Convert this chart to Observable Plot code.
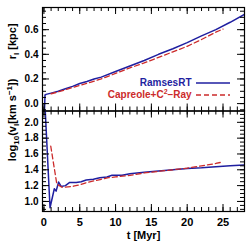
<!DOCTYPE html>
<html><head><meta charset="utf-8">
<script src="https://cdn.jsdelivr.net/npm/d3@7"></script>
<script src="https://cdn.jsdelivr.net/npm/@observablehq/plot@0.6"></script>
<style>
body{margin:0;background:#fff;}
#c{position:relative;width:249px;height:245px;overflow:hidden;}
#c svg{position:absolute;left:0;overflow:visible;background:none;}
.leg{position:absolute;font:bold 10px "Liberation Sans",Arial,sans-serif;line-height:12px;white-space:nowrap;}
</style></head>
<body><div id="c"></div>
<script>
// ---- data ----
const blueRT = [0.05,0.15,0.3,1,2,3,4,5,6,7,8,10,12,14,16,18,20,22,24,26,28];
const blueR  = [-0.1,0.07,0.075,0.085,0.10,0.12,0.14,0.163,0.18,0.20,0.215,0.26,0.305,0.35,0.40,0.445,0.495,0.55,0.60,0.66,0.725];
const redRT  = [1,2,4,6,8,10,12,14,16,18,20,22,24,25];
const redR   = [0.08,0.095,0.13,0.165,0.20,0.245,0.29,0.33,0.375,0.42,0.465,0.52,0.58,0.605];

const blueVT = [0.1,0.85,1.45,1.7,2.05,2.4,3,3.6,4.5,5.2,5.9,6.9,7.8,8.8,9.5,10.9,12,14,16,18,20,22,24,26,28];
const blueV  = [2.3,0.92,1.16,1.13,1.245,1.19,1.20,1.24,1.24,1.25,1.27,1.28,1.30,1.31,1.33,1.33,1.35,1.37,1.385,1.40,1.415,1.425,1.44,1.45,1.46];
const redVT  = [0.95,1.8,2.5,3,4,5,6,7,8,9,10,12,14,16,18,20,22,24,25];
const redV   = [1.70,1.22,1.18,1.18,1.19,1.21,1.24,1.26,1.28,1.30,1.31,1.33,1.36,1.38,1.40,1.42,1.45,1.48,1.50];

const xTicks = [0,5,10,15,20,25];
const rTicks = [0.0,0.2,0.4,0.6];
const vTicks = [1.0,1.2,1.4,1.6,1.8,2.0];
const seriesNames = ["RamsesRT","Capreole+C²–Ray"];
const seriesColors = ["#1f1fa0","#cc2b2b"];

// ---- layout ----
const W=249, ML=42, MR=5;
const xDomain=[-0.2,28];
const font={fontSize:10,fontWeight:"bold",fontFamily:"Liberation Sans, Arial, sans-serif"};
const minorX=d3.range(0,28.001,1);

function ticksMarks(H, mt, mb, minorY, majorY){
  const fh=H-mt-mb, fw=W-ML-MR;
  return [
    Plot.tickX(minorX,{x:d=>d,insetTop:fh-4,stroke:"black"}),
    Plot.tickX(minorX,{x:d=>d,insetBottom:fh-4,stroke:"black"}),
    Plot.tickX(xTicks,{x:d=>d,insetTop:fh-7,stroke:"black"}),
    Plot.tickX(xTicks,{x:d=>d,insetBottom:fh-7,stroke:"black"}),
    Plot.tickY(minorY,{y:d=>d,insetRight:fw-4,stroke:"black"}),
    Plot.tickY(minorY,{y:d=>d,insetLeft:fw-4,stroke:"black"}),
    Plot.tickY(majorY,{y:d=>d,insetRight:fw-7,stroke:"black"}),
    Plot.tickY(majorY,{y:d=>d,insetLeft:fw-7,stroke:"black"}),
    Plot.frame({stroke:"black",strokeWidth:1.2})
  ];
}

const topPlot = Plot.plot({
  width:W,height:111,marginLeft:ML,marginRight:MR,marginTop:7,marginBottom:0.5,
  style:{background:"none"},
  x:{domain:xDomain,axis:null},
  y:{domain:[-0.06,0.78],axis:null},
  marks:[
    Plot.line(blueRT.map((t,i)=>({t,v:blueR[i]})),{x:"t",y:"v",stroke:seriesColors[0],strokeWidth:1.5,clip:true}),
    Plot.line(redRT.map((t,i)=>({t,v:redR[i]})),{x:"t",y:"v",stroke:seriesColors[1],strokeWidth:1.3,strokeDasharray:"5,3",clip:true}),
    ...ticksMarks(111,7,0.5,d3.range(-0.05,0.78,0.05),rTicks),
    Plot.axisY(rTicks,{anchor:"left",tickSize:0,tickPadding:4,tickFormat:d3.format(".1f"),label:null,...font}),
    Plot.text(["r_I [kpc]"],{frameAnchor:"left",dx:-30,rotate:-90,...font,fontSize:11})
  ]
});
topPlot.style.top="0px";

const botPlot = Plot.plot({
  width:W,height:135,marginLeft:ML,marginRight:MR,marginTop:0.5,marginBottom:34,
  style:{background:"none"},
  x:{domain:xDomain,axis:null},
  y:{domain:[0.873,2.143],axis:null},
  marks:[
    Plot.line(blueVT.map((t,i)=>({t,v:blueV[i]})),{x:"t",y:"v",stroke:seriesColors[0],strokeWidth:1.5,clip:true}),
    Plot.line(redVT.map((t,i)=>({t,v:redV[i]})),{x:"t",y:"v",stroke:seriesColors[1],strokeWidth:1.3,strokeDasharray:"5,3",clip:true}),
    ...ticksMarks(135,0.5,34,d3.range(0.9,2.15,0.05),vTicks),
    Plot.axisY(vTicks,{anchor:"left",tickSize:0,tickPadding:4,tickFormat:d3.format(".1f"),label:null,...font}),
    Plot.axisX(xTicks,{anchor:"bottom",tickSize:0,tickPadding:7,label:null,...font,fontSize:11}),
    Plot.text(["log10(v_I[km s^-1])"],{frameAnchor:"left",dx:-30,rotate:-90,...font,fontSize:11}),
    Plot.text(["t [Myr]"],{frameAnchor:"bottom",dy:24,lineAnchor:"middle",...font,fontSize:11})
  ]
});
botPlot.style.top="110px";

const container=document.getElementById("c");
container.appendChild(topPlot); container.appendChild(botPlot);

// rich text for axis titles
function rich(root, raw, html){
  d3.select(root).selectAll("text").filter(function(){return this.textContent===raw;}).html(html);
}
rich(topPlot,"r_I [kpc]",'r<tspan dy="3" font-size="8">I</tspan><tspan dy="-3"> [kpc]</tspan>');
rich(botPlot,"log10(v_I[km s^-1])",'log<tspan dy="3" font-size="8">10</tspan><tspan dy="-3">(v</tspan><tspan dy="3" font-size="8">I</tspan><tspan dy="-3">[km s</tspan><tspan dy="-4" font-size="8">−1</tspan><tspan dy="4">])</tspan>');

// legend
const legY=[77,88.5];
seriesNames.forEach((n,i)=>{
  const d=document.createElement("div");
  d.className="leg";
  d.style.right=(249-191.5)+"px";
  d.style.top=legY[i]+"px";
  d.style.color=seriesColors[i];
  d.innerHTML = i===0 ? n : 'Capreole+C<sup style="font-size:7px;vertical-align:4px;line-height:0">2</sup>–Ray';
  container.appendChild(d);
  const s=d3.create("svg").attr("width",36).attr("height",4).style("top",(legY[i]+4)+"px").style("left","195px");
  s.append("line").attr("x1",1).attr("x2",35).attr("y1",2).attr("y2",2)
    .attr("stroke",seriesColors[i]).attr("stroke-width",i?1.3:1.5).attr("stroke-dasharray",i?"5,3":null);
  container.appendChild(s.node());
});
</script>
</body></html>
